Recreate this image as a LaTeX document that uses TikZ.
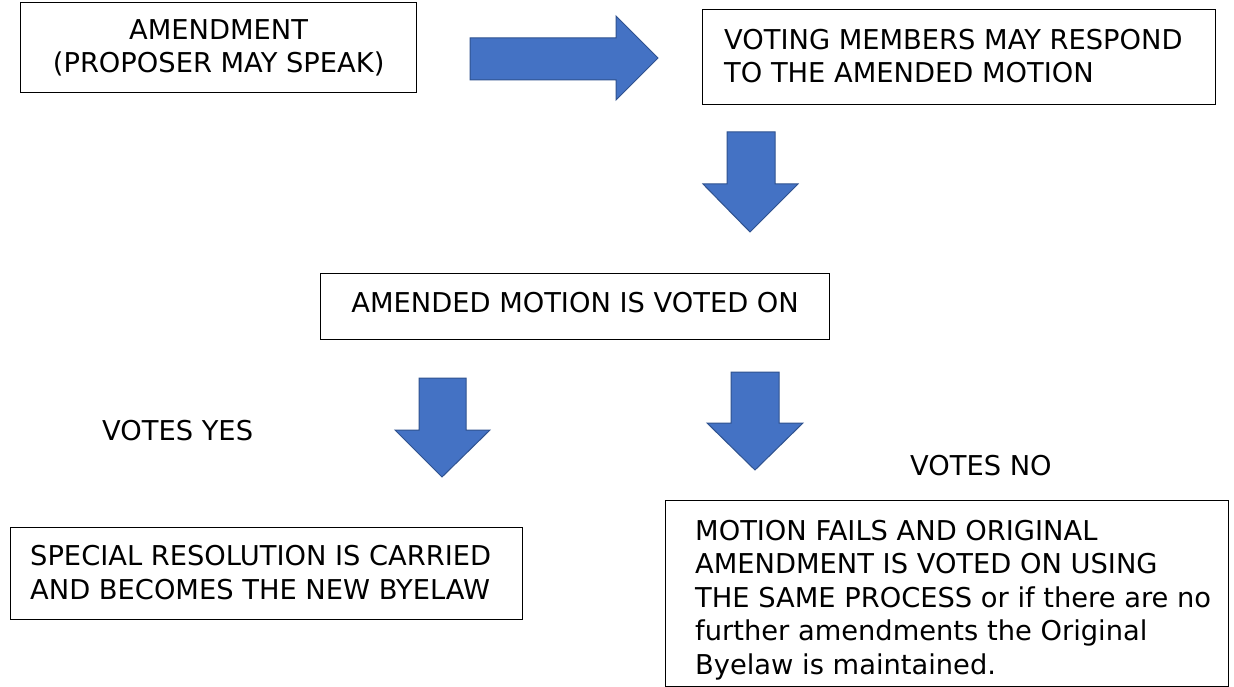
\documentclass[tikz,border=0pt]{standalone}
\usepackage{fontspec}
\setmainfont{DejaVu Sans}
\definecolor{arrowfill}{HTML}{4472C4}
\definecolor{arrowline}{HTML}{2F528F}
\begin{document}
\begin{tikzpicture}[x=1pt,y=-1pt,
  box/.style={draw=black, line width=1.3pt, rectangle, anchor=north west},
  txt/.style={font=\fontsize{27.3}{33.5}\selectfont, inner sep=0pt},
  blockarrow/.style={fill=arrowfill, draw=arrowline, line width=1pt, line join=miter}]
\useasboundingbox[fill=white] (0,0) rectangle (1234,687);
% boxes
\node[box, minimum width=396, minimum height=90] (b1) at (20,2) {};
\node[box, minimum width=513, minimum height=95] (b2) at (702,9) {};
\node[box, minimum width=509, minimum height=66] (b3) at (320,273) {};
\node[box, minimum width=512, minimum height=92] (b4) at (10,527) {};
\node[box, minimum width=563, minimum height=186] (b5) at (665,500) {};
% texts
\node[txt, align=center] (t1) at (b1.center) {AMENDMENT\\(PROPOSER MAY SPEAK)};
\node[txt, align=left, anchor=west] (t2) at ([xshift=22pt, yshift=1pt]b2.west) {VOTING MEMBERS MAY RESPOND\\TO THE AMENDED MOTION};
\node[txt, align=center] (t3) at ([yshift=4.5pt]b3.center) {AMENDED MOTION IS VOTED ON};
\node[txt, align=left, anchor=west] (t4) at ([xshift=20pt, yshift=1pt]b4.west) {SPECIAL RESOLUTION IS CARRIED\\AND BECOMES THE NEW BYELAW};
\node[txt, align=left, anchor=west] (t5) at ([xshift=30pt, yshift=-6.5pt]b5.west) {MOTION FAILS AND ORIGINAL\\AMENDMENT IS VOTED ON USING\\THE SAME PROCESS or if there are no\\further amendments the Original\\Byelaw is maintained.};
% labels
\node[txt, anchor=west] (yes) at (102,431) {VOTES YES};
\node[txt, anchor=west] (no) at (910,466) {VOTES NO};
% block arrows
\draw[blockarrow] (470,38) -- (616,38) -- (616,16) -- (658,58) -- (616,100) -- (616,80) -- (470,80) -- cycle;
\draw[blockarrow] (727,132) -- (775,132) -- (775,184) -- (798,184) -- (750,232) -- (703,184) -- (727,184) -- cycle;
\draw[blockarrow] (419,378) -- (466,378) -- (466,430) -- (490,430) -- (442,477) -- (395,430) -- (419,430) -- cycle;
\draw[blockarrow] (731,372) -- (779,372) -- (779,423) -- (803,423) -- (755,470) -- (707,423) -- (731,423) -- cycle;
\end{tikzpicture}
\end{document}
